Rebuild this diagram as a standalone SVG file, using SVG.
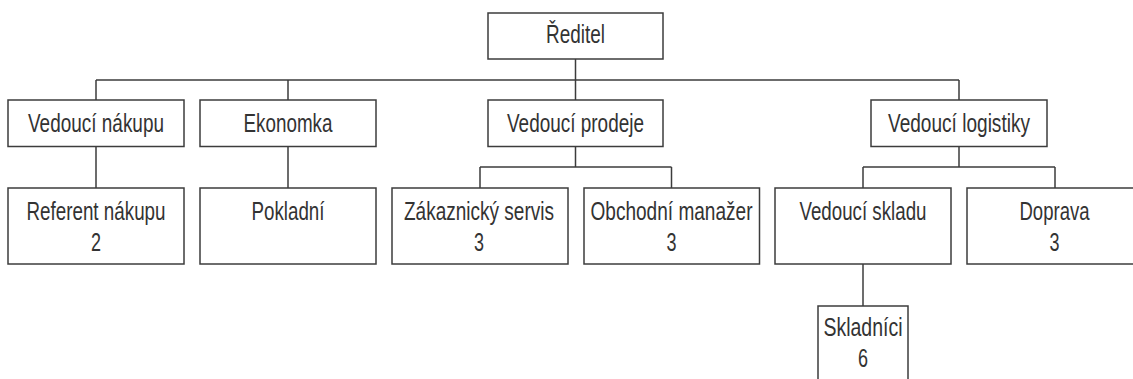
<svg xmlns="http://www.w3.org/2000/svg" width="1133" height="379" viewBox="0 0 1133 379">
<style>
.box{fill:#fff;stroke:#3c3c3c;stroke-width:1.5}
.t{font-family:"Liberation Sans",Arial,sans-serif;font-size:25.5px;fill:#333;text-anchor:middle}
.c{fill:none;stroke:#3c3c3c;stroke-width:1.5}
</style>
<rect width="1133" height="379" fill="#fff"/>
<g id="connectors">
<path class="c" d="M575.5 59V100M96 80H959M96 80V100M288 80V100M959 80V100"/>
<path class="c" d="M96 146.5V188M288 146.5V188"/>
<path class="c" d="M575.5 146.5V167M480 167H671.5M480 167V188M671.5 167V188"/>
<path class="c" d="M959 146.5V167M863 167H1055M863 167V188M1055 167V188"/>
<path class="c" d="M863 264V306"/>
</g>
<g id="reditel"><rect class="box" x="488" y="13" width="175" height="46"/><text class="t" x="575.5" y="43" textLength="59" lengthAdjust="spacingAndGlyphs">Ředitel</text></g>
<g id="vedouci-nakupu"><rect class="box" x="8" y="100" width="176" height="46.5"/><text class="t" x="96" y="131.5" textLength="136" lengthAdjust="spacingAndGlyphs">Vedoucí nákupu</text></g>
<g id="ekonomka"><rect class="box" x="200" y="100" width="176" height="46.5"/><text class="t" x="288" y="131.5" textLength="89" lengthAdjust="spacingAndGlyphs">Ekonomka</text></g>
<g id="vedouci-prodeje"><rect class="box" x="488" y="100" width="175" height="46.5"/><text class="t" x="575.5" y="131.5" textLength="137" lengthAdjust="spacingAndGlyphs">Vedoucí prodeje</text></g>
<g id="vedouci-logistiky"><rect class="box" x="871" y="100" width="176" height="46.5"/><text class="t" x="959" y="131.5" textLength="142" lengthAdjust="spacingAndGlyphs">Vedoucí logistiky</text></g>
<g id="referent-nakupu"><rect class="box" x="8" y="188" width="176" height="76"/><text class="t" x="96" y="219.5" textLength="139" lengthAdjust="spacingAndGlyphs">Referent nákupu</text><text class="t" x="96" y="250.7" textLength="10" lengthAdjust="spacingAndGlyphs">2</text></g>
<g id="pokladni"><rect class="box" x="200" y="188" width="176" height="76"/><text class="t" x="288" y="219.5" textLength="73" lengthAdjust="spacingAndGlyphs">Pokladní</text></g>
<g id="zakaznicky-servis"><rect class="box" x="392" y="188" width="176" height="76"/><text class="t" x="479" y="219.5" textLength="150" lengthAdjust="spacingAndGlyphs">Zákaznický servis</text><text class="t" x="479" y="250.7" textLength="10" lengthAdjust="spacingAndGlyphs">3</text></g>
<g id="obchodni-manazer"><rect class="box" x="584" y="188" width="175.5" height="76"/><text class="t" x="671.5" y="219.5" textLength="162" lengthAdjust="spacingAndGlyphs">Obchodní manažer</text><text class="t" x="671.5" y="250.7" textLength="10" lengthAdjust="spacingAndGlyphs">3</text></g>
<g id="vedouci-skladu"><rect class="box" x="775" y="188" width="176" height="76"/><text class="t" x="863" y="219.5" textLength="127" lengthAdjust="spacingAndGlyphs">Vedoucí skladu</text></g>
<g id="doprava"><rect class="box" x="967" y="188" width="176" height="76"/><text class="t" x="1054.5" y="219.5" textLength="70" lengthAdjust="spacingAndGlyphs">Doprava</text><text class="t" x="1054.5" y="250.7" textLength="10" lengthAdjust="spacingAndGlyphs">3</text></g>
<g id="skladnici"><rect class="box" x="818" y="306" width="90" height="100"/><text class="t" x="863" y="336" textLength="79" lengthAdjust="spacingAndGlyphs">Skladníci</text><text class="t" x="863" y="367" textLength="10" lengthAdjust="spacingAndGlyphs">6</text></g>
</svg>
